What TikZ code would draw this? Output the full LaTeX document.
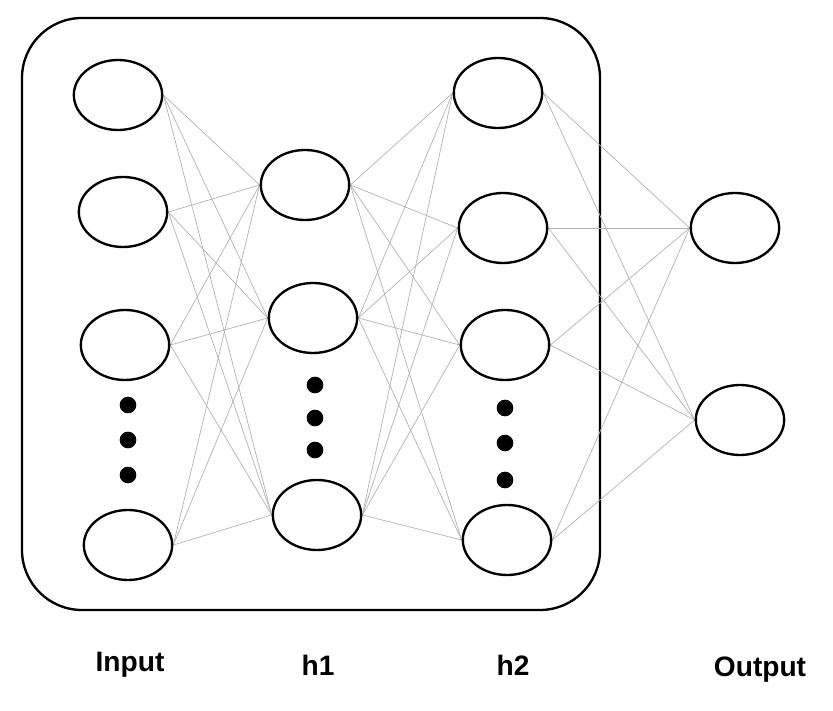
\documentclass[tikz,border=0pt]{standalone}
\usepackage{fontspec}
\setmainfont{Liberation Sans}
\usetikzlibrary{shapes, backgrounds}

\begin{document}
\begin{tikzpicture}[
   x=0.03cm, y=-0.03cm,
   neuron/.style={ellipse, draw=black, fill=white, line width=2,
                  minimum width=2.65cm, minimum height=2.1cm},
   dot/.style={circle, fill=black, inner sep=0, minimum size=0.5cm},
   link/.style={draw=gray!60, line width=0.6},
   lbl/.style={font=\bfseries\fontsize{24}{28}\selectfont}
  ]

  \useasboundingbox (0, 0) rectangle (833, 711);

  % Layers
  \foreach \n/\x/\y in {i1/118/95, i2/123/212, i3/125/345, i4/128/545,
                        a1/305/185, a2/313/318, a3/317/515,
                        b1/498/93, b2/503/228, b3/505/345, b4/507/540,
                        o1/735/228, o2/740/420} {
    \node (\n) at (\x, \y) [neuron] {};
  }

  % Connections
  \begin{scope}[on background layer]
    \draw[line width=2, rounded corners=1.8cm] (22, 18) rectangle (600, 610);
    \foreach \s in {i1,i2,i3,i4} {
      \foreach \t in {a1,a2,a3} {
        \draw[link] (\s.east) -- (\t.west);
      }
    }
    \foreach \s in {a1,a2,a3} {
      \foreach \t in {b1,b2,b3,b4} {
        \draw[link] (\s.east) -- (\t.west);
      }
    }
    \foreach \s in {b1,b2,b3,b4} {
      \foreach \t in {o1,o2} {
        \draw[link] (\s.east) -- (\t.west);
      }
    }
  \end{scope}

  % Ellipsis dots
  \foreach \x/\y [count=\k] in {128/405, 128/440, 128/475,
                                315/385, 315/418, 315/450,
                                505/408, 505/443, 505/480} {
    \node (d\k) at (\x, \y) [dot] {};
  }

  % Labels
  \node (Lin)  at (130, 665) [lbl] {Input};
  \node (Lh1)  at (318, 665) [lbl] {h1};
  \node (Lh2)  at (513, 665) [lbl] {h2};
  \node (Lout) at (760, 670) [lbl] {Output};

\end{tikzpicture}
\end{document}
